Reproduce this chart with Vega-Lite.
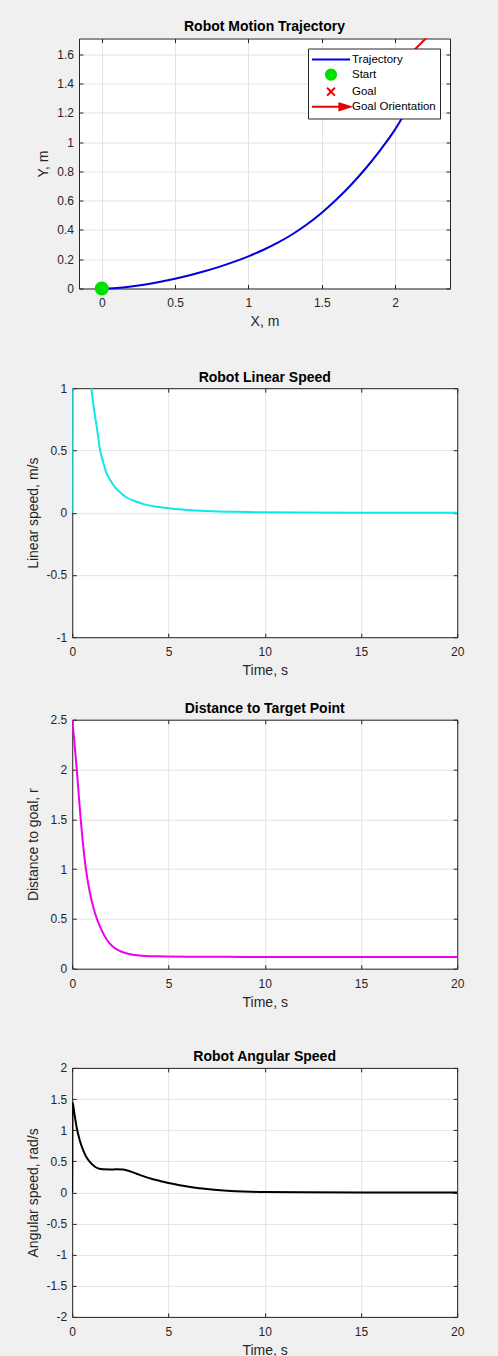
{
  "$schema": "https://vega.github.io/schema/vega-lite/v6.json",
  "background": "#f0f0f0",
  "padding": {"left": 26, "top": 19.5, "right": 34, "bottom": 0},
  "datasets": {
    "traj": [
      {"x": 0, "y": 0}, {"x": 0.1, "y": 0.004}, {"x": 0.2, "y": 0.014}, {"x": 0.3, "y": 0.028},
      {"x": 0.4, "y": 0.046}, {"x": 0.5, "y": 0.067}, {"x": 0.6, "y": 0.091}, {"x": 0.7, "y": 0.118},
      {"x": 0.8, "y": 0.148}, {"x": 0.9, "y": 0.182}, {"x": 1.0, "y": 0.22}, {"x": 1.1, "y": 0.263},
      {"x": 1.2, "y": 0.313}, {"x": 1.3, "y": 0.371}, {"x": 1.4, "y": 0.439}, {"x": 1.5, "y": 0.518},
      {"x": 1.6, "y": 0.608}, {"x": 1.7, "y": 0.709}, {"x": 1.8, "y": 0.822}, {"x": 1.9, "y": 0.948},
      {"x": 2.0, "y": 1.088}, {"x": 2.05, "y": 1.17}, {"x": 2.1, "y": 1.27}, {"x": 2.13, "y": 1.36},
      {"x": 2.15, "y": 1.44}
    ],
    "arrow": [{"x": 2, "y": 1.5}, {"x": 2.35, "y": 1.85}],
    "markers": [{"x": 0, "y": 0, "series": "Start"}, {"x": 2, "y": 1.5, "series": "Goal"}],
    "linear": [
      {"t": 0, "v": 0}, {"t": 0.02, "v": 3.0}, {"t": 0.3, "v": 2.1}, {"t": 0.6, "v": 1.55},
      {"t": 0.99, "v": 1.0}, {"t": 1.15, "v": 0.81}, {"t": 1.3, "v": 0.66}, {"t": 1.45, "v": 0.5},
      {"t": 1.6, "v": 0.41}, {"t": 1.75, "v": 0.33}, {"t": 2.0, "v": 0.255}, {"t": 2.25, "v": 0.2},
      {"t": 2.55, "v": 0.155}, {"t": 2.85, "v": 0.12}, {"t": 3.3, "v": 0.09}, {"t": 3.75, "v": 0.067},
      {"t": 4.4, "v": 0.048}, {"t": 5.1, "v": 0.034}, {"t": 6.0, "v": 0.022}, {"t": 7.0, "v": 0.014},
      {"t": 8.5, "v": 0.007}, {"t": 10, "v": 0.003}, {"t": 12, "v": 0.001}, {"t": 15, "v": 0},
      {"t": 20, "v": 0}
    ],
    "dist": [
      {"t": 0, "d": 2.5}, {"t": 0.1, "d": 2.3}, {"t": 0.2, "d": 2.08}, {"t": 0.3, "d": 1.84},
      {"t": 0.44, "d": 1.5}, {"t": 0.55, "d": 1.27}, {"t": 0.71, "d": 1.0}, {"t": 0.9, "d": 0.78},
      {"t": 1.09, "d": 0.62}, {"t": 1.3, "d": 0.49}, {"t": 1.53, "d": 0.385}, {"t": 1.8, "d": 0.29},
      {"t": 2.13, "d": 0.217}, {"t": 2.5, "d": 0.175}, {"t": 3.0, "d": 0.145}, {"t": 3.6, "d": 0.131},
      {"t": 4.5, "d": 0.124}, {"t": 6, "d": 0.12}, {"t": 8, "d": 0.119}, {"t": 10, "d": 0.118},
      {"t": 15, "d": 0.117}, {"t": 20, "d": 0.117}
    ],
    "angular": [
      {"t": 0, "w": 0}, {"t": 0.02, "w": 1.45}, {"t": 0.1, "w": 1.3}, {"t": 0.23, "w": 1.05},
      {"t": 0.4, "w": 0.83}, {"t": 0.57, "w": 0.68}, {"t": 0.75, "w": 0.56}, {"t": 0.92, "w": 0.49},
      {"t": 1.15, "w": 0.42}, {"t": 1.35, "w": 0.385}, {"t": 1.6, "w": 0.37}, {"t": 1.96, "w": 0.368},
      {"t": 2.3, "w": 0.37}, {"t": 2.65, "w": 0.366}, {"t": 3.0, "w": 0.34}, {"t": 3.35, "w": 0.3},
      {"t": 3.8, "w": 0.25}, {"t": 4.2, "w": 0.21}, {"t": 4.6, "w": 0.18}, {"t": 5.0, "w": 0.15},
      {"t": 5.6, "w": 0.115}, {"t": 6.3, "w": 0.08}, {"t": 7.0, "w": 0.055}, {"t": 7.7, "w": 0.035},
      {"t": 8.5, "w": 0.02}, {"t": 9.3, "w": 0.01}, {"t": 10, "w": 0.005}, {"t": 12, "w": 0.001},
      {"t": 15, "w": 0}, {"t": 20, "w": 0}
    ]
  },
  "spacing": 40.7,
  "center": true,
  "resolve": {
    "scale": {"shape": "independent", "fill": "independent", "stroke": "independent"},
    "legend": {"shape": "independent", "fill": "independent", "stroke": "independent"}
  },
  "vconcat": [
    {
      "width": 371,
      "height": 250,
      "title": {"text": "Robot Motion Trajectory", "offset": 3.6},
      "resolve": {"axis": {"x": "independent", "y": "independent"}},
      "layer": [
        {
          "data": {"name": "traj"},
          "mark": {"type": "line", "color": "#0000dd", "strokeWidth": 2, "interpolate": "monotone"},
          "encoding": {
            "x": {"field": "x", "type": "quantitative", "scale": {"domain": [-0.155, 2.374], "nice": false, "zero": false},
                  "axis": {"orient": "bottom", "values": [0, 0.5, 1, 1.5, 2], "title": "X, m", "grid": true, "labelFlush": false, "labelExpr": "'' + datum.value", "minExtent": 21, "maxExtent": 21, "titlePadding": 5.4}},
            "y": {"field": "y", "type": "quantitative", "scale": {"domain": [0, 1.709], "nice": false, "zero": false},
                  "axis": {"orient": "left", "values": [0, 0.2, 0.4, 0.6, 0.8, 1, 1.2, 1.4, 1.6], "title": "Y, m", "grid": true, "labelFlush": false, "labelExpr": "'' + datum.value", "minExtent": 23.8, "maxExtent": 23.8, "titlePadding": 5.2}}
          }
        },
        {
          "data": {"name": "arrow"},
          "mark": {"type": "line", "color": "#e80000", "strokeWidth": 2, "clip": true},
          "encoding": {
            "x": {"field": "x", "type": "quantitative", "scale": {"domain": [-0.155, 2.374], "nice": false, "zero": false},
                  "axis": {"orient": "top", "values": [0, 0.5, 1, 1.5, 2], "title": null, "labels": false, "grid": false, "minExtent": 0, "maxExtent": 0}},
            "y": {"field": "y", "type": "quantitative", "scale": {"domain": [0, 1.709], "nice": false, "zero": false},
                  "axis": {"orient": "right", "values": [0, 0.2, 0.4, 0.6, 0.8, 1, 1.2, 1.4, 1.6], "title": " ", "titleFontSize": 7, "titlePadding": 0, "labels": false, "grid": false, "minExtent": 0, "maxExtent": 0}}
          }
        },
        {
          "data": {"name": "markers"},
          "mark": {"type": "point", "filled": true, "size": 200, "strokeWidth": 2, "opacity": 1, "clip": false},
          "encoding": {
            "x": {"field": "x", "type": "quantitative", "scale": {"domain": [-0.155, 2.374], "nice": false, "zero": false}, "axis": null},
            "y": {"field": "y", "type": "quantitative", "scale": {"domain": [0, 1.709], "nice": false, "zero": false}, "axis": null},
            "shape": {
              "field": "series", "type": "nominal",
              "scale": {
                "domain": ["Trajectory", "Start", "Goal", "Goal Orientation"],
                "range": [
                  "M-3.17,0L3.17,0",
                  "M-0.85,0A0.85,0.85,0,1,1,0.85,0A0.85,0.85,0,1,1,-0.85,0Z",
                  "M-0.65,-0.65L0.65,0.65M-0.65,0.65L0.65,-0.65",
                  "M-3.17,0L1.6,0M1.4,-0.55L3.17,0L1.4,0.55Z"
                ]
              },
              "legend": {
                "title": null,
                "orient": "top-right",
                "offset": 10,
                "fillColor": "#ffffff",
                "strokeColor": "#262626",
                "padding": 4,
                "symbolSize": 144,
                "symbolOffset": 12,
                "labelOffset": 14,
                "rowPadding": -0.9,
                "labelFont": "Liberation Sans",
                "labelFontSize": 11.5,
                "labelColor": "#000000",
                "symbolStrokeWidth": 2,
                "symbolOpacity": 1,
                "encode": {
                  "symbols": {
                    "update": {
                      "fill": {"signal": "datum.value === 'Start' ? '#00e000' : (datum.value === 'Trajectory' ? 'transparent' : '#e80000')"},
                      "stroke": {"signal": "datum.value === 'Trajectory' ? '#0000dd' : (datum.value === 'Start' ? '#00e000' : '#e80000')"},
                      "strokeWidth": {"value": 2}
                    }
                  }
                }
              }
            },
            "fill": {"field": "series", "type": "nominal", "scale": {"domain": ["Trajectory", "Start", "Goal", "Goal Orientation"], "range": ["#0000dd", "#00e000", "#e80000", "#e80000"]}, "legend": null},
            "stroke": {"field": "series", "type": "nominal", "scale": {"domain": ["Trajectory", "Start", "Goal", "Goal Orientation"], "range": ["#0000dd", "#00e000", "#e80000", "#e80000"]}, "legend": null}
          }
        }
      ]
    },
    {
      "spacing": 23.5,
      "center": true,
      "vconcat": [
        {
          "width": 385,
          "height": 249,
          "title": {"text": "Robot Linear Speed", "offset": -2.4},
          "resolve": {"axis": {"x": "independent", "y": "independent"}},
          "layer": [
            {
              "data": {"name": "linear"},
              "mark": {"type": "line", "color": "#10e8e8", "strokeWidth": 2, "clip": true, "interpolate": "monotone"},
              "encoding": {
                "x": {"field": "t", "type": "quantitative", "scale": {"domain": [0, 20], "nice": false},
                      "axis": {"orient": "bottom", "values": [0, 5, 10, 15, 20], "title": "Time, s", "grid": true, "labelFlush": false, "labelExpr": "'' + datum.value", "minExtent": 21, "maxExtent": 21, "titlePadding": 5.4}},
                "y": {"field": "v", "type": "quantitative", "scale": {"domain": [-1, 1], "nice": false},
                      "axis": {"orient": "left", "values": [-1, -0.5, 0, 0.5, 1], "title": "Linear speed, m/s", "grid": true, "labelFlush": false, "labelExpr": "'' + datum.value", "minExtent": 26, "maxExtent": 26, "titlePadding": 6}}
              }
            },
            {
              "data": {"name": "linear"},
              "mark": {"type": "line", "opacity": 0, "clip": true},
              "encoding": {
                "x": {"field": "t", "type": "quantitative", "scale": {"domain": [0, 20], "nice": false},
                      "axis": {"orient": "top", "values": [0, 5, 10, 15, 20], "title": null, "labels": false, "grid": false, "minExtent": 0, "maxExtent": 0}},
                "y": {"field": "v", "type": "quantitative", "scale": {"domain": [-1, 1], "nice": false},
                      "axis": {"orient": "right", "values": [-1, -0.5, 0, 0.5, 1], "title": null, "labels": false, "grid": false, "minExtent": 0, "maxExtent": 0}}
              }
            }
          ]
        },
        {
          "width": 385,
          "height": 249,
          "title": {"text": "Distance to Target Point", "offset": -2.4},
          "resolve": {"axis": {"x": "independent", "y": "independent"}},
          "layer": [
            {
              "data": {"name": "dist"},
              "mark": {"type": "line", "color": "#ee00ee", "strokeWidth": 2, "clip": true, "interpolate": "monotone"},
              "encoding": {
                "x": {"field": "t", "type": "quantitative", "scale": {"domain": [0, 20], "nice": false},
                      "axis": {"orient": "bottom", "values": [0, 5, 10, 15, 20], "title": "Time, s", "grid": true, "labelFlush": false, "labelExpr": "'' + datum.value", "minExtent": 21, "maxExtent": 21, "titlePadding": 5.4}},
                "y": {"field": "d", "type": "quantitative", "scale": {"domain": [0, 2.5], "nice": false},
                      "axis": {"orient": "left", "values": [0, 0.5, 1, 1.5, 2, 2.5], "title": "Distance to goal, r", "grid": true, "labelFlush": false, "labelExpr": "'' + datum.value", "minExtent": 26, "maxExtent": 26, "titlePadding": 6}}
              }
            },
            {
              "data": {"name": "dist"},
              "mark": {"type": "line", "opacity": 0, "clip": true},
              "encoding": {
                "x": {"field": "t", "type": "quantitative", "scale": {"domain": [0, 20], "nice": false},
                      "axis": {"orient": "top", "values": [0, 5, 10, 15, 20], "title": null, "labels": false, "grid": false, "minExtent": 0, "maxExtent": 0}},
                "y": {"field": "d", "type": "quantitative", "scale": {"domain": [0, 2.5], "nice": false},
                      "axis": {"orient": "right", "values": [0, 0.5, 1, 1.5, 2, 2.5], "title": null, "labels": false, "grid": false, "minExtent": 0, "maxExtent": 0}}
              }
            }
          ]
        }
      ]
    },
    {
      "width": 385,
      "height": 249,
      "title": {"text": "Robot Angular Speed", "offset": -2.4},
      "resolve": {"axis": {"x": "independent", "y": "independent"}},
      "layer": [
        {
          "data": {"name": "angular"},
          "mark": {"type": "line", "color": "#000000", "strokeWidth": 2, "clip": true, "interpolate": "monotone"},
          "encoding": {
            "x": {"field": "t", "type": "quantitative", "scale": {"domain": [0, 20], "nice": false},
                  "axis": {"orient": "bottom", "values": [0, 5, 10, 15, 20], "title": "Time, s", "grid": true, "labelFlush": false, "labelExpr": "'' + datum.value", "minExtent": 21, "maxExtent": 21, "titlePadding": 5.4}},
            "y": {"field": "w", "type": "quantitative", "scale": {"domain": [-2, 2], "nice": false},
                  "axis": {"orient": "left", "values": [-2, -1.5, -1, -0.5, 0, 0.5, 1, 1.5, 2], "title": "Angular speed, rad/s", "grid": true, "labelFlush": false, "labelExpr": "'' + datum.value", "minExtent": 26, "maxExtent": 26, "titlePadding": 6}}
          }
        },
        {
          "data": {"name": "angular"},
          "mark": {"type": "line", "opacity": 0, "clip": true},
          "encoding": {
            "x": {"field": "t", "type": "quantitative", "scale": {"domain": [0, 20], "nice": false},
                  "axis": {"orient": "top", "values": [0, 5, 10, 15, 20], "title": null, "labels": false, "grid": false, "minExtent": 0, "maxExtent": 0}},
            "y": {"field": "w", "type": "quantitative", "scale": {"domain": [-2, 2], "nice": false},
                  "axis": {"orient": "right", "values": [-2, -1.5, -1, -0.5, 0, 0.5, 1, 1.5, 2], "title": null, "labels": false, "grid": false, "minExtent": 0, "maxExtent": 0}}
          }
        }
      ]
    }
  ],
  "config": {
    "view": {"fill": "#ffffff", "stroke": null},
    "title": {"font": "Liberation Sans", "fontSize": 14, "fontWeight": "bold", "color": "#000000", "anchor": "middle", "frame": "group", "baseline": "bottom"},
    "axis": {
      "domainColor": "#262626", "domainWidth": 1, "tickColor": "#262626", "tickWidth": 1, "tickSize": -4,
      "gridColor": "#e3e3e3", "gridWidth": 1,
      "labelFont": "Liberation Sans", "labelFontSize": 12, "labelColor": "#262626",
      "titleFont": "Liberation Sans", "titleFontSize": 14, "titleFontWeight": "normal", "titleColor": "#262626"
    },
    "axisX": {"labelPadding": 13.3},
    "axisY": {"labelPadding": 9.5}
  }
}
